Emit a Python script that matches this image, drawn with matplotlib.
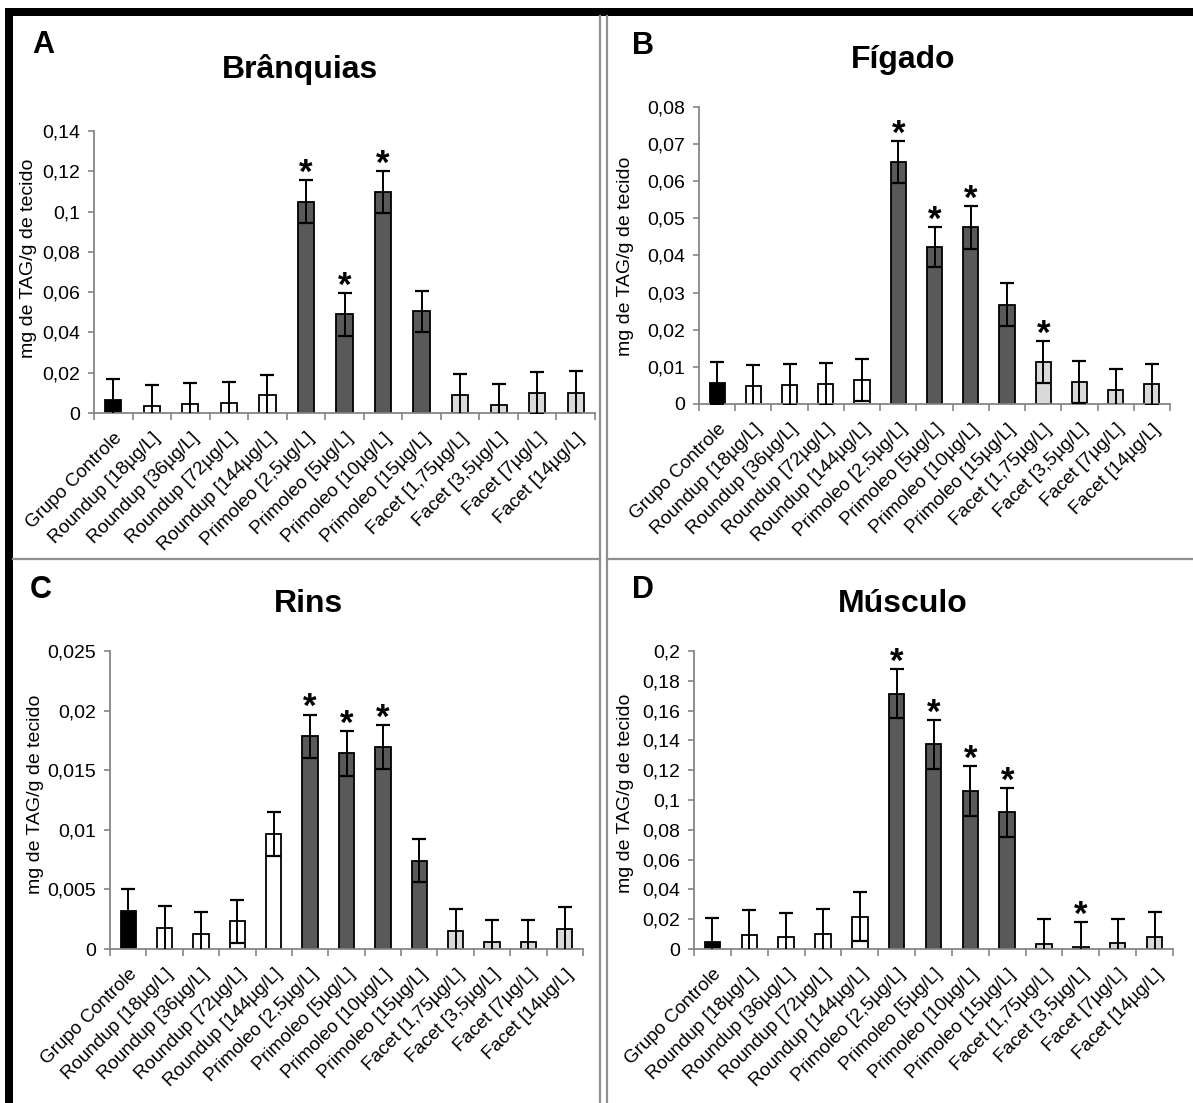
import numpy as np
import matplotlib
matplotlib.use('Agg')
import matplotlib.pyplot as plt
from matplotlib.ticker import MultipleLocator, FuncFormatter, FixedLocator
from matplotlib.patches import Rectangle
from matplotlib.lines import Line2D

plt.rcParams['font.family'] = ['Liberation Sans', 'DejaVu Sans']

#GROUPS
grupos = ['Grupo Controle', 'Roundup [18µg/L]', 'Roundup [36µg/L]', 'Roundup [72µg/L]',
          'Roundup [144µg/L]', 'Primoleo [2,5µg/L]', 'Primoleo [5µg/L]', 'Primoleo [10µg/L]',
          'Primoleo [15µg/L]', 'Facet [1,75µg/L]', 'Facet [3,5µg/L]', 'Facet [7µg/L]',
          'Facet [14µg/L]']
cores = ['black'] + ['white'] * 4 + ['#595959'] * 4 + ['#d9d9d9'] * 4

#A - BRANQUIAS
branq_media = [0.0064, 0.0033, 0.0043, 0.0052, 0.0087, 0.1048, 0.0490, 0.1097, 0.0504,
               0.0090, 0.0040, 0.0100, 0.0100]
branq_erro = [0.0104, 0.0106, 0.0104, 0.0104, 0.0104, 0.0107, 0.0107, 0.0104, 0.0104,
              0.0106, 0.0104, 0.0104, 0.0108]
branq_sig = [5, 6, 7]

#B - FIGADO
figado_media = [0.0057, 0.0048, 0.0052, 0.0054, 0.0065, 0.0651, 0.0422, 0.0476, 0.0267,
                0.0113, 0.0059, 0.0037, 0.0053]
figado_erro = [0.0056, 0.0056, 0.0056, 0.0056, 0.0057, 0.0057, 0.0054, 0.0058, 0.0058,
               0.0057, 0.0057, 0.0057, 0.0056]
figado_sig = [5, 6, 7, 9]

#C - RINS
rins_media = [0.00317, 0.00172, 0.00130, 0.00231, 0.00963, 0.01783, 0.01641, 0.01694,
              0.00741, 0.00154, 0.00062, 0.00062, 0.00169]
rins_erro = [0.00187, 0.00187, 0.00184, 0.00184, 0.00184, 0.00184, 0.00187, 0.00187,
             0.00180, 0.00181, 0.00181, 0.00181, 0.00186]
rins_sig = [5, 6, 7]

#D - MUSCULO
musc_media = [0.0045, 0.0097, 0.0078, 0.0104, 0.0218, 0.1713, 0.1374, 0.1059, 0.0917,
              0.0036, 0.0014, 0.0043, 0.0081]
musc_erro = [0.0164, 0.0164, 0.0166, 0.0166, 0.0166, 0.0164, 0.0164, 0.0169, 0.0164,
             0.0163, 0.0166, 0.0161, 0.0165]
musc_sig = [5, 6, 7, 8, 10]

W = 1193.0
H = 1103.0

def caixa(x0, x1, y0, y1):
	return [x0 / W, 1 - y1 / H, (x1 - x0) / W, (y1 - y0) / H]

def virgula(v, pos):
	return ('%g' % v).replace('.', ',')

def painel(pos, media, erro, sig, ymax, passo):
	ax = fig.add_axes(pos)
	x = np.arange(len(grupos))
	ax.bar(x, media, width=0.42, color=cores, edgecolor='black', linewidth=1.3, zorder=2)
	ax.errorbar(x, media, yerr=erro, fmt='none', ecolor='black', elinewidth=1.4,
	            capsize=5, capthick=1.6, zorder=3)
	for i in sig:
		ax.annotate('*', (x[i], media[i] + erro[i]), xytext=(0, -2), textcoords='offset points',
		            ha='center', va='baseline', fontsize=25, fontweight='bold')
	ax.set_xlim(-0.5, len(grupos) - 0.5)
	ax.set_ylim(0, ymax)
	ax.yaxis.set_major_locator(MultipleLocator(passo))
	ax.yaxis.set_major_formatter(FuncFormatter(virgula))
	ax.set_xticks(x)
	ax.set_xticklabels(grupos, rotation=45, ha='right', va='top', rotation_mode='anchor',
	                   fontsize=13.5)
	ax.xaxis.set_minor_locator(FixedLocator(np.arange(len(grupos) + 1) - 0.5))
	ax.tick_params(axis='x', which='major', length=0, pad=12)
	ax.tick_params(axis='x', which='minor', length=5, width=1.2, color='#868686')
	ax.tick_params(axis='y', length=4, width=1.2, color='#868686', labelsize=14, pad=6)
	for s in ['top', 'right']:
		ax.spines[s].set_visible(False)
	for s in ['left', 'bottom']:
		ax.spines[s].set_color('#868686')
		ax.spines[s].set_linewidth(1.3)
	return ax

fig = plt.figure(figsize=(11.93, 11.03), dpi=100)

painel(caixa(94, 595, 131, 413), branq_media, branq_erro, branq_sig, 0.14, 0.02)
painel(caixa(699, 1170, 107, 404), figado_media, figado_erro, figado_sig, 0.08, 0.01)
painel(caixa(110, 583, 651, 949), rins_media, rins_erro, rins_sig, 0.025, 0.005)
painel(caixa(694, 1173, 651, 949), musc_media, musc_erro, musc_sig, 0.2, 0.02)

#TITLES, LETTERS, Y LABELS
titulos = [('Brânquias', 300, 78), ('Fígado', 903, 68), ('Rins', 308, 612), ('Músculo', 903, 612)]
letras = [('A', 32, 53), ('B', 632, 54), ('C', 30, 598), ('D', 632, 598)]
ylabels = [(29, 258), (626, 256), (36, 794), (626, 793)]

for t, px, py in titulos:
	fig.text(px / W, 1 - py / H, t, ha='center', va='baseline', fontsize=23, fontweight='bold')
for t, px, py in letras:
	fig.text(px / W, 1 - py / H, t, ha='left', va='baseline', fontsize=22, fontweight='bold')
for px, py in ylabels:
	fig.text(px / W, 1 - py / H, 'mg de TAG/g de tecido', ha='center', va='center',
	         rotation=90, fontsize=14)

#FRAME LINES
fig.add_artist(Rectangle((5 / W, 1 - 16 / H), 1 - 5 / W, 8 / H, transform=fig.transFigure,
                         color='black', lw=0))
fig.add_artist(Rectangle((5 / W, 0), 8 / W, 1 - 8 / H, transform=fig.transFigure,
                         color='black', lw=0))
for px in [600, 607]:
	fig.add_artist(Line2D([px / W, px / W], [0, 1 - 16 / H], transform=fig.transFigure,
	                      color='#909090', lw=1.6))
fig.add_artist(Line2D([13 / W, 600 / W], [1 - 559 / H, 1 - 559 / H], transform=fig.transFigure,
                      color='#909090', lw=1.6))
fig.add_artist(Line2D([607 / W, 1], [1 - 559 / H, 1 - 559 / H], transform=fig.transFigure,
                      color='#909090', lw=1.6))

fig.savefig('out.png', dpi=100)
